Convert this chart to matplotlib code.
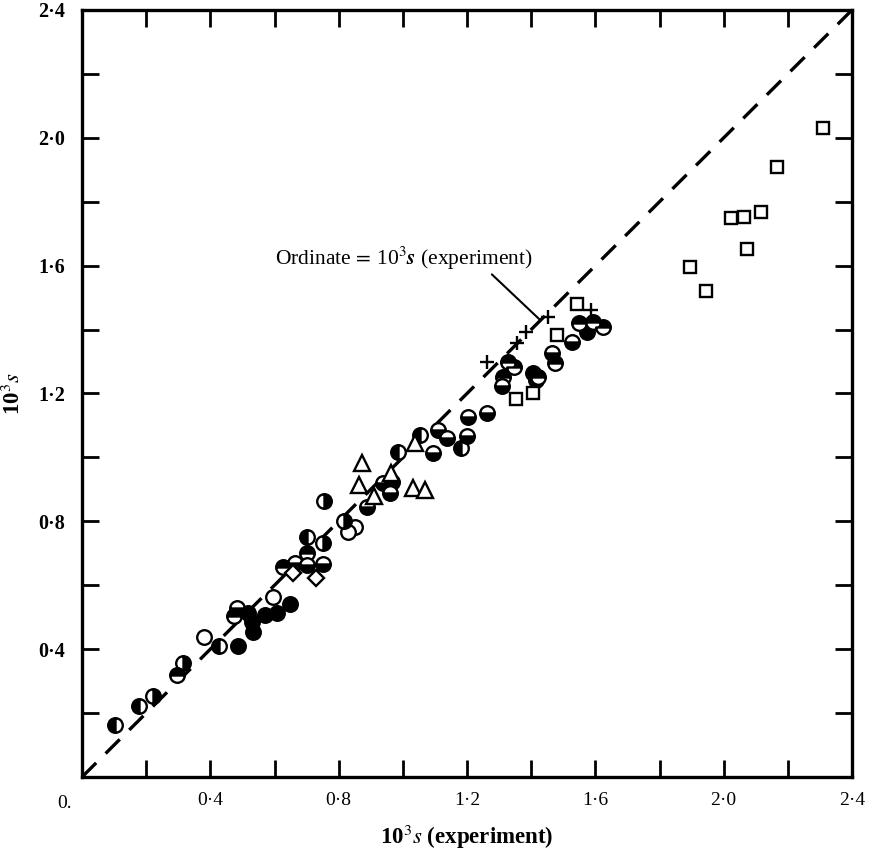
import matplotlib
matplotlib.use("Agg")
import matplotlib.pyplot as plt
import numpy as np

plt.rcParams['font.family'] = ['Liberation Serif', 'DejaVu Serif']
plt.rcParams['mathtext.fontset'] = 'stix'

# ---- data ----
filled_x = [0.487, 0.518, 0.529, 0.532, 0.570, 0.607, 0.648, 1.407, 1.415, 1.573]
filled_y = [0.410, 0.512, 0.486, 0.455, 0.507, 0.512, 0.541, 1.263, 1.243, 1.393]

open_x = [0.381, 0.594, 0.851, 0.830]
open_y = [0.437, 0.564, 0.781, 0.768]

left_x = [0.103, 0.179, 0.428, 0.702, 0.986, 1.054, 1.180]
left_y = [0.163, 0.222, 0.411, 0.750, 1.016, 1.070, 1.028]

right_x = [0.222, 0.316, 0.755, 0.817, 0.752]
right_y = [0.253, 0.358, 0.864, 0.802, 0.731]

top_x = [0.295, 0.474, 0.628, 0.702, 1.329, 1.348, 1.313, 1.422, 1.474, 1.550, 1.594, 1.625]
top_y = [0.319, 0.504, 0.658, 0.700, 1.300, 1.282, 1.251, 1.253, 1.296, 1.420, 1.425, 1.409]

bottom_x = [0.482, 0.664, 0.700, 0.752, 0.889, 0.939, 0.965, 0.960, 1.095, 1.111,
            1.137, 1.199, 1.204, 1.261, 1.308, 1.464, 1.526]
bottom_y = [0.528, 0.669, 0.663, 0.666, 0.844, 0.919, 0.924, 0.888, 1.015, 1.086,
            1.060, 1.067, 1.127, 1.140, 1.223, 1.328, 1.362]

tri_x = [0.872, 0.864, 0.963, 0.910, 1.031, 1.069, 1.038]
tri_y = [0.981, 0.914, 0.950, 0.879, 0.903, 0.898, 1.046]

dia_x = [0.659, 0.729]
dia_y = [0.637, 0.622]

sq_x = [1.352, 1.405, 1.480, 1.542, 1.895, 1.944, 2.022, 2.062, 2.116, 2.074, 2.165, 2.31]
sq_y = [1.183, 1.202, 1.383, 1.480, 1.597, 1.522, 1.748, 1.753, 1.769, 1.651, 1.908, 2.03]

plus_x = [1.261, 1.355, 1.384, 1.454, 1.586]
plus_y = [1.300, 1.357, 1.393, 1.438, 1.461]

ticks = [0.0, 0.4, 0.8, 1.2, 1.6, 2.0, 2.4]
tick_labels = ['', '0·4', '0·8', '1·2', '1·6', '2·0', '2·4']

# ---- figure ----
fig = plt.figure(figsize=(8.71, 8.51), dpi=100)
ax = fig.add_axes([82/871, 1-777/851, 770/871, 767/851])
ax.set_xlim(0, 2.4)
ax.set_ylim(0, 2.4)

ax.plot([0, 2.4], [0, 2.4], color='black', lw=2.4, ls=(0, (6, 4)), zorder=1)

ms = 10.5
mew = 1.7
common = dict(ls='none', mec='black', mew=mew, zorder=3)
ax.plot(filled_x, filled_y, marker='o', ms=ms, mfc='black', **common)
ax.plot(open_x, open_y, marker='o', ms=ms, mfc='white', **common)
for fx, fy, fs in [(left_x, left_y, 'left'), (right_x, right_y, 'right'),
                   (top_x, top_y, 'top'), (bottom_x, bottom_y, 'bottom')]:
    ax.plot(fx, fy, marker='o', ms=ms, fillstyle=fs, mfc='black',
            markerfacecoloralt='white', **common)
ax.plot(tri_x, tri_y, marker='^', ms=11, mfc='white', **common)
ax.plot(dia_x, dia_y, marker='D', ms=8, mfc='white', **common)
ax.plot(sq_x, sq_y, marker='s', ms=8.5, mfc='white', **common)
ax.plot(plus_x, plus_y, marker='+', ms=10, **common)

# annotation
ax.annotate('Ordinate$\\,=\\,$10$^3$$\\mathbfit{s}$ (experiment)',
            xy=(1.428, 1.430), xytext=(0.602, 1.624),
            fontsize=15.5, va='center', ha='left',
            arrowprops=dict(arrowstyle='-', color='black', lw=1.5,
                            shrinkA=0, shrinkB=0, relpos=(0.83, 0.0)))

# axes styling
for s in ax.spines.values():
    s.set_linewidth(2.4)
ax.set_xticks(ticks)
ax.set_yticks(ticks)
ax.set_xticks(np.arange(0.2, 2.4, 0.4), minor=True)
ax.set_yticks(np.arange(0.2, 2.4, 0.4), minor=True)
ax.set_xticklabels(tick_labels, fontsize=14)
ax.set_yticklabels(tick_labels, fontsize=14.5, fontweight='bold')
ax.tick_params(which='both', direction='in', length=12, width=2,
               top=True, right=True, pad=11)
ax.tick_params(axis='y', pad=12)

fig.text(65/871, 1-803/851, '0.', ha='center', va='center', fontsize=14)

ax.set_xlabel('10$^3$$\\mathit{s}$ (experiment)', fontsize=16.5, fontweight='bold', labelpad=10)
ax.set_ylabel('10$^3$$\\mathit{s}$', fontsize=16.5, fontweight='bold', labelpad=10)

fig.savefig('out.png', dpi=100)
